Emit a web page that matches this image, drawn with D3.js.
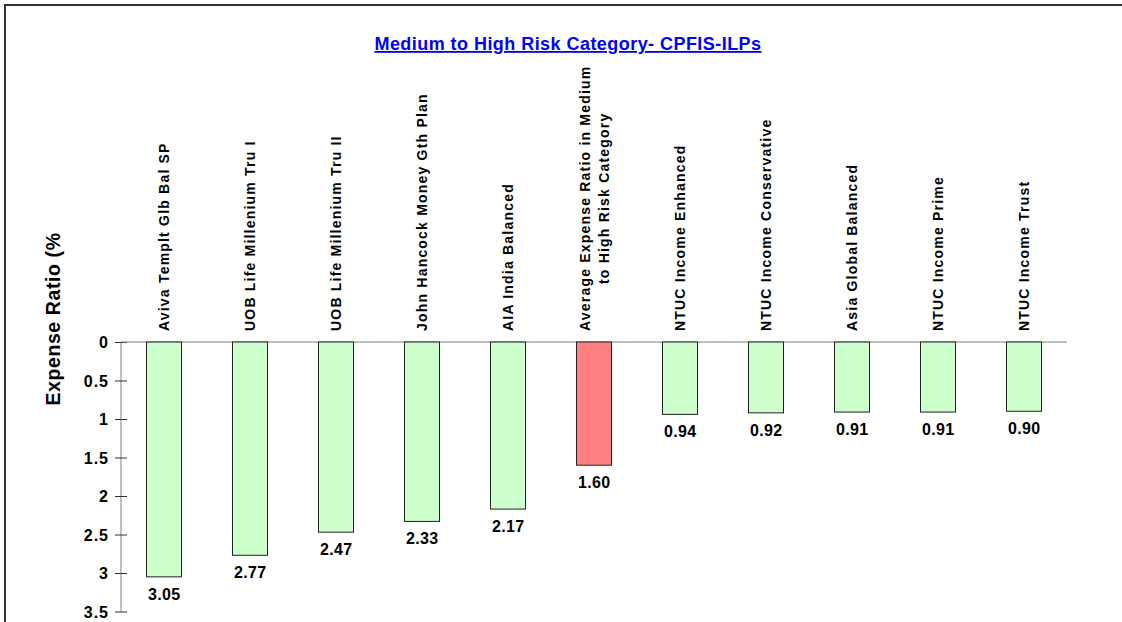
<!DOCTYPE html>
<html><head><meta charset="utf-8">
<script src="https://cdn.jsdelivr.net/npm/d3@7"></script>
<style>
html,body{margin:0;padding:0;background:#fff;}
svg{display:block;font-family:Arial,"Liberation Sans",sans-serif;}
</style></head>
<body>
<svg id="c" width="1122" height="622"></svg>
<script>
const categories = [
  ["Aviva Templt Glb Bal SP"],
  ["UOB Life Millenium Tru I"],
  ["UOB Life Millenium Tru II"],
  ["John Hancock Money Gth Plan"],
  ["AIA India Balanced"],
  ["Average Expense Ratio in Medium", "to High Risk Category"],
  ["NTUC Income Enhanced"],
  ["NTUC Income Conservative"],
  ["Asia Global Balanced"],
  ["NTUC Income Prime"],
  ["NTUC Income Trust"]
];
const values = [3.05, 2.77, 2.47, 2.33, 2.17, 1.60, 0.94, 0.92, 0.91, 0.91, 0.90];
const isAverage = [false, false, false, false, false, true, false, false, false, false, false];
const yTicks = [0, 0.5, 1, 1.5, 2, 2.5, 3, 3.5];
const title = "Medium to High Risk Category- CPFIS-ILPs";
const yTitle = "Expense Ratio (%";

const svg = d3.select("#c");

// outer frame
svg.append("path").attr("d","M5,622 V5 H1122").attr("fill","none").attr("stroke","#333").attr("stroke-width",2);

const x = d3.scaleBand().domain(d3.range(categories.length)).range([121, 1067]).paddingInner(0.593).paddingOuter(0.2965);
const y = d3.scaleLinear().domain([0, 3.5]).range([342, 611.5]);

// title
svg.append("text").attr("x", 568).attr("y", 50).attr("text-anchor","middle")
  .attr("font-size", 18).attr("font-weight","bold").attr("fill","#0000ff")
  .attr("text-decoration","underline").attr("letter-spacing", 0.45)
  .text(title);

// y axis
const yAxis = d3.axisLeft(y).tickValues(yTicks).tickSize(6).tickFormat(d3.format("~g"));
const ga = svg.append("g").attr("transform","translate(121,0)").call(yAxis);
ga.select(".domain").attr("stroke","#808080").attr("d","M0,342V611.5");
ga.selectAll(".tick line").attr("stroke","#333").attr("x1",-6).attr("x2",6);
ga.selectAll(".tick text").attr("x",-12).attr("dy","0.36em").attr("font-size",16).attr("font-weight","bold")
  .attr("letter-spacing",1).attr("fill","#000").attr("font-family","Arial, 'Liberation Sans', sans-serif");

// zero line
svg.append("line").attr("x1",121).attr("x2",1067).attr("y1",y(0)).attr("y2",y(0)).attr("stroke","#808080").attr("stroke-width",1);

// y title
svg.append("text").attr("transform","translate(60,319) rotate(-90)").attr("text-anchor","middle")
  .attr("font-size",19.5).attr("font-weight","bold").attr("letter-spacing",0.6).attr("fill","#000").text(yTitle);

// bars
svg.append("g").selectAll("rect").data(values).join("rect")
  .attr("x",(d,i)=>x(i)).attr("y",y(0)).attr("width",x.bandwidth()).attr("height",d=>y(d)-y(0))
  .attr("fill",(d,i)=>isAverage[i]?"#ff8080":"#ccffcc").attr("stroke","#222").attr("stroke-width",1);

// value labels
svg.append("g").selectAll("text").data(values).join("text")
  .attr("x",(d,i)=>x(i)+x.bandwidth()/2+0.3).attr("y",d=>y(d)+23).attr("text-anchor","middle")
  .attr("font-size",16).attr("font-weight","bold").attr("letter-spacing",0.4).attr("fill","#000").text(d=>d3.format(".2f")(d));

// category labels
const lg = svg.append("g");
const LFS = 14, LLS = 1.2;
categories.forEach((lines,i)=>{
  const cx = x(i)+x.bandwidth()/2;
  const baseY = 331;
  const lh = 19;
  const n = lines.length;
  const t = lg.append("text").attr("font-size",LFS).attr("font-weight","bold").attr("fill","#000").attr("letter-spacing",LLS);
  if (n === 1) {
    t.attr("transform",`translate(${cx+5},${baseY}) rotate(-90)`).attr("text-anchor","start").text(lines[0]);
  } else {
    const tmp = lg.append("text").attr("font-size",LFS).attr("font-weight","bold").attr("letter-spacing",LLS).text(lines[0]);
    const len = tmp.node().getComputedTextLength();
    tmp.remove();
    t.attr("transform",`translate(${cx},${baseY-len/2}) rotate(-90)`).attr("text-anchor","middle");
    lines.forEach((ln,k)=>{
      t.append("tspan").attr("x",0).attr("y",(k-(n-1)/2)*lh+5).text(ln);
    });
  }
});
</script>
</body></html>
